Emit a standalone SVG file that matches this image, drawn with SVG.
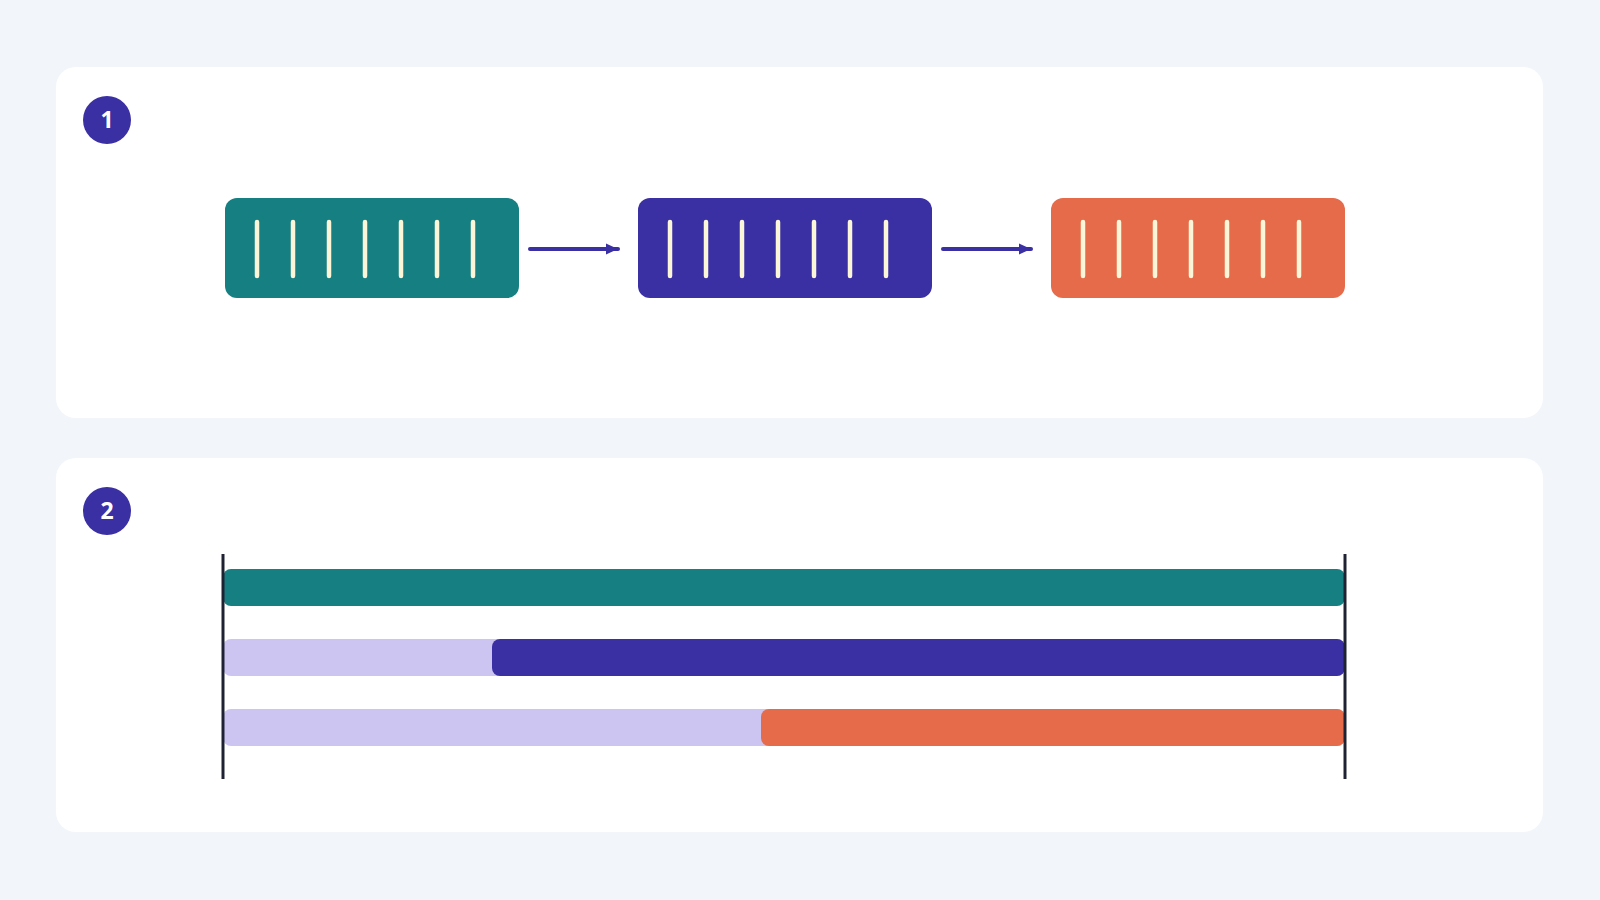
<svg xmlns="http://www.w3.org/2000/svg" width="1600" height="900" viewBox="0 0 1600 900">
  <style>
    .panel { fill: #FFFFFF; }
    .badge { fill: #3A2FA3; }
    .badge-text { fill: #FFFFFF; font-family: "Open Sans", "Liberation Sans", sans-serif; font-weight: 700; font-size: 23px; text-anchor: middle; }
    .tick { stroke: #FBF6D8; stroke-width: 4.5; stroke-linecap: round; }
    .conn { stroke: #3A2FA3; stroke-width: 4; stroke-linecap: round; fill: none; }
    .axis { stroke: #1E2233; stroke-width: 3; }
    .teal { fill: #157F82; }
    .blue { fill: #3A2FA3; }
    .orange { fill: #E56B4A; }
    .lav { fill: #CCC5F2; }
  </style>
  <defs>
    <marker id="arrow" markerUnits="userSpaceOnUse" markerWidth="14" markerHeight="14" refX="12" refY="7" orient="auto">
      <path d="M0,1.5 L12,7 L0,12.5 Z" fill="#3A2FA3"/>
    </marker>
    <g id="ticks">
      <line class="tick" x1="32" y1="24" x2="32" y2="78"/>
      <line class="tick" x1="68" y1="24" x2="68" y2="78"/>
      <line class="tick" x1="104" y1="24" x2="104" y2="78"/>
      <line class="tick" x1="140" y1="24" x2="140" y2="78"/>
      <line class="tick" x1="176" y1="24" x2="176" y2="78"/>
      <line class="tick" x1="212" y1="24" x2="212" y2="78"/>
      <line class="tick" x1="248" y1="24" x2="248" y2="78"/>
    </g>
  </defs>

  <rect width="1600" height="900" fill="#F2F6FA"/>

  <g id="panel1">
    <rect class="panel" x="56" y="67" width="1487" height="351" rx="20"/>
    <circle class="badge" cx="107" cy="120" r="24"/>
    <text class="badge-text" x="107" y="128">1</text>
  </g>

  <g id="panel2">
    <rect class="panel" x="56" y="458" width="1487" height="374" rx="20"/>
    <circle class="badge" cx="107" cy="511" r="24"/>
    <text class="badge-text" x="107" y="519">2</text>
  </g>

  <g id="node-teal">
    <rect class="teal" x="225" y="198" width="294" height="100" rx="12"/>
    <use href="#ticks" x="225" y="198"/>
  </g>
  <g id="node-blue">
    <rect class="blue" x="638" y="198" width="294" height="100" rx="12"/>
    <use href="#ticks" x="638" y="198"/>
  </g>
  <g id="node-orange">
    <rect class="orange" x="1051" y="198" width="294" height="100" rx="12"/>
    <use href="#ticks" x="1051" y="198"/>
  </g>

  <g id="connectors">
    <line class="conn" x1="530" y1="249" x2="618" y2="249" marker-end="url(#arrow)"/>
    <line class="conn" x1="943" y1="249" x2="1031" y2="249" marker-end="url(#arrow)"/>
  </g>

  <g id="timeline">
    <rect class="teal" x="223" y="569" width="1122" height="37" rx="8"/>
    <rect class="lav" x="223" y="639" width="1122" height="37" rx="8"/>
    <rect class="blue" x="492" y="639" width="853" height="37" rx="8"/>
    <rect class="lav" x="223" y="709" width="1122" height="37" rx="8"/>
    <rect class="orange" x="761" y="709" width="584" height="37" rx="8"/>
    <line class="axis" x1="223" y1="554" x2="223" y2="779"/>
    <line class="axis" x1="1345" y1="554" x2="1345" y2="779"/>
  </g>
</svg>
